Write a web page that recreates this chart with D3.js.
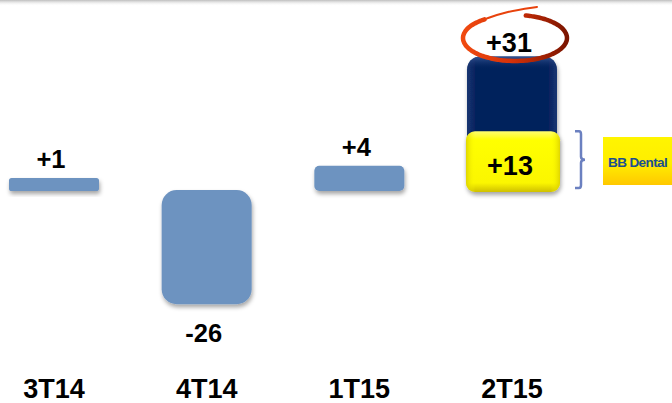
<!DOCTYPE html>
<html><head><meta charset="utf-8">
<script src="https://cdn.jsdelivr.net/npm/d3@7"></script>
<style>html,body{margin:0;padding:0;background:#fff;}svg{display:block;}</style>
</head><body>
<script>
// ---- data ----
const categories = ["3T14", "4T14", "1T15", "2T15"];
const values = [1, -26, 4, 31];
const valueLabels = ["+1", "-26", "+4", "+31"];
const dentalPart = 13;           // portion of 2T15 from BB Dental
const dentalLabel = "+13";
const dentalName = "BB Dental";

const W = 672, H = 403;
const svg = d3.select("body").append("svg").attr("width", W).attr("height", H)
  .style("font-family", "'Liberation Sans', Arial, sans-serif");

const defs = svg.append("defs");
const sh = defs.append("filter").attr("id", "shadow").attr("x", "-20%").attr("y", "-20%").attr("width", "150%").attr("height", "160%");
sh.append("feDropShadow").attr("dx", 1).attr("dy", 3).attr("stdDeviation", 2).attr("flood-color", "#000").attr("flood-opacity", 0.35);

const gNavy = defs.append("linearGradient").attr("id", "navy").attr("x1", 0).attr("x2", 1).attr("y1", 0).attr("y2", 0);
[["0%", "#1a3672"], ["10%", "#04205c"], ["90%", "#04205c"], ["100%", "#1a3672"]].forEach(s => gNavy.append("stop").attr("offset", s[0]).attr("stop-color", s[1]));
const gNavyV = defs.append("linearGradient").attr("id", "navyV").attr("x1", 0).attr("x2", 0).attr("y1", 0).attr("y2", 1);
[["0%", "#3a5a9a", 0.9], ["10%", "#0a2660", 0], ["100%", "#0a2660", 0]].forEach(s => gNavyV.append("stop").attr("offset", s[0]).attr("stop-color", s[1]).attr("stop-opacity", s[2]));

const gYel = defs.append("linearGradient").attr("id", "yel").attr("x1", 0).attr("x2", 0).attr("y1", 0).attr("y2", 1);
[["0%", "#ffff70"], ["15%", "#ffff00"], ["85%", "#fbf600"], ["100%", "#cfc000"]].forEach(s => gYel.append("stop").attr("offset", s[0]).attr("stop-color", s[1]));
const gYelH = defs.append("linearGradient").attr("id", "yelH").attr("x1", 0).attr("x2", 1).attr("y1", 0).attr("y2", 0);
[["0%", "#d8cc00", 0.8], ["10%", "#ffff00", 0], ["90%", "#ffff00", 0], ["100%", "#d8cc00", 0.8]].forEach(s => gYelH.append("stop").attr("offset", s[0]).attr("stop-color", s[1]).attr("stop-opacity", s[2]));

const gLogo = defs.append("linearGradient").attr("id", "logo").attr("x1", 0).attr("x2", 0).attr("y1", 0).attr("y2", 1);
[["0%", "#fff500"], ["55%", "#ffee00"], ["100%", "#ffc800"]].forEach(s => gLogo.append("stop").attr("offset", s[0]).attr("stop-color", s[1]));

const gRing = defs.append("linearGradient").attr("id", "ring").attr("gradientUnits", "userSpaceOnUse")
  .attr("x1", 463).attr("x2", 568).attr("y1", 0).attr("y2", 0);
[["0%", "#f04a10"], ["45%", "#d83208"], ["100%", "#7a1400"]].forEach(s => gRing.append("stop").attr("offset", s[0]).attr("stop-color", s[1]));

const gTop = defs.append("linearGradient").attr("id", "topline").attr("x1", 0).attr("x2", 0).attr("y1", 0).attr("y2", 1);
[["0%", "#bdbdbd", 1], ["100%", "#ffffff", 0]].forEach(s => gTop.append("stop").attr("offset", s[0]).attr("stop-color", s[1]).attr("stop-opacity", s[2]));

// top rule
svg.append("rect").attr("x", 0).attr("y", 0).attr("width", W).attr("height", 6).attr("fill", "url(#topline)");

// ---- scales ----
const x = d3.scalePoint().domain(categories).range([54, 512]);
const barW = 90;
const baseTop = 190, baseBot = 191;     // zero line for negative / positive bars
const pad = 9;                          // minimum bar thickness
const len = d3.scaleLinear().domain([0, 31]).range([0, 125.5]);
const h = v => len(Math.abs(v)) + pad;
const topOf = v => v >= 0 ? baseBot - h(v) : baseTop;
const radius = hh => Math.min(15, 0.2 * Math.min(barW, hh));

// ---- bars (first three) ----
const simple = categories.slice(0, 3).map((c, i) => ({ c, v: values[i], lab: valueLabels[i] }));
svg.selectAll("rect.bar").data(simple).enter().append("rect").attr("class", "bar")
  .attr("x", d => x(d.c) - barW / 2)
  .attr("y", d => topOf(d.v))
  .attr("width", barW)
  .attr("height", d => h(d.v))
  .attr("rx", d => radius(h(d.v)))
  .attr("fill", "#6d93c0")
  .attr("filter", "url(#shadow)");

svg.selectAll("text.val").data(simple).enter().append("text").attr("class", "val")
  .attr("x", d => x(d.c) - 3)
  .attr("y", d => d.v >= 0 ? topOf(d.v) - 10 : topOf(d.v) + h(d.v) + 38)
  .attr("text-anchor", "middle").attr("font-weight", "bold").attr("font-size", 25.5).attr("fill", "#000")
  .text(d => d.lab);

// ---- stacked 2T15 ----
const c4 = categories[3], v4 = values[3];
const x4 = x(c4) - barW / 2;
const top4 = topOf(v4);
const hTot = h(v4);
const hDent = h(dentalPart);
const yDent = baseBot - hDent + 2;
const gS = svg.append("g");
gS.append("rect").attr("x", x4).attr("y", top4).attr("width", barW).attr("height", hTot - 8)
  .attr("rx", 13).attr("fill", "url(#navy)").attr("filter", "url(#shadow)");
gS.append("rect").attr("x", x4).attr("y", top4).attr("width", barW).attr("height", hTot - 8)
  .attr("rx", 13).attr("fill", "url(#navyV)");
gS.append("rect").attr("x", x4 - 1).attr("y", yDent).attr("width", barW + 4).attr("height", baseBot - yDent + 1)
  .attr("rx", 9).attr("fill", "url(#yel)").attr("filter", "url(#shadow)");
gS.append("rect").attr("x", x4 - 1).attr("y", yDent).attr("width", barW + 4).attr("height", baseBot - yDent + 1)
  .attr("rx", 9).attr("fill", "url(#yelH)");
gS.append("text").attr("x", x(c4) - 2).attr("y", baseBot - 16)
  .attr("text-anchor", "middle").attr("font-weight", "bold").attr("font-size", 27).attr("fill", "#000")
  .text(dentalLabel);

// total label with hand-drawn ring
const cx = x(c4) + 3, cy = 38, rx = 52, ry = 23;
const ringPts = d3.range(-78, 236, 3).map(a => {
  const t = a * Math.PI / 180;
  return [cx + rx * Math.cos(t), cy + ry * Math.sin(t)];
});
svg.append("path").attr("d", d3.line().curve(d3.curveBasis)(ringPts))
  .attr("fill", "none").attr("stroke", "url(#ring)").attr("stroke-width", 4.5).attr("stroke-linecap", "round");
const last = ringPts[ringPts.length - 1];
svg.append("path").attr("d", d3.line().curve(d3.curveBasis)([last, [last[0] + 22, last[1] - 8], [cx + 22, 7]]))
  .attr("fill", "none").attr("stroke", "#e8420c").attr("stroke-width", 2).attr("stroke-linecap", "round");
svg.append("text").attr("x", x(c4) - 3).attr("y", top4 - 5)
  .attr("text-anchor", "middle").attr("font-weight", "bold").attr("font-size", 27).attr("fill", "#000")
  .text(valueLabels[3]);

// bracket
const bx = x4 + barW + 18;
const by0 = yDent, by1 = baseBot - 3, bm = (by0 + by1) / 2;
svg.append("path")
  .attr("d", `M${bx},${by0} H${bx + 4} Q${bx + 6},${by0} ${bx + 6},${by0 + 3} V${bm - 3} Q${bx + 6},${bm} ${bx + 10},${bm} Q${bx + 6},${bm} ${bx + 6},${bm + 3} V${by1 - 3} Q${bx + 6},${by1} ${bx + 4},${by1} H${bx}`)
  .attr("fill", "none").attr("stroke", "#6b80c0").attr("stroke-width", 2.5);

// BB Dental logo box
svg.append("rect").attr("x", 603).attr("y", 137).attr("width", 72).attr("height", 48).attr("fill", "url(#logo)");
svg.append("text").attr("x", 608).attr("y", 167).attr("font-weight", "bold").attr("font-size", 13.5)
  .attr("letter-spacing", -0.6).attr("fill", "#1b4f8f").text(dentalName);

// category labels
svg.selectAll("text.cat").data(categories).enter().append("text").attr("class", "cat")
  .attr("x", d => x(d)).attr("y", 398)
  .attr("text-anchor", "middle").attr("font-weight", "bold").attr("font-size", 27).attr("fill", "#000")
  .text(d => d);
</script>
</body></html>
